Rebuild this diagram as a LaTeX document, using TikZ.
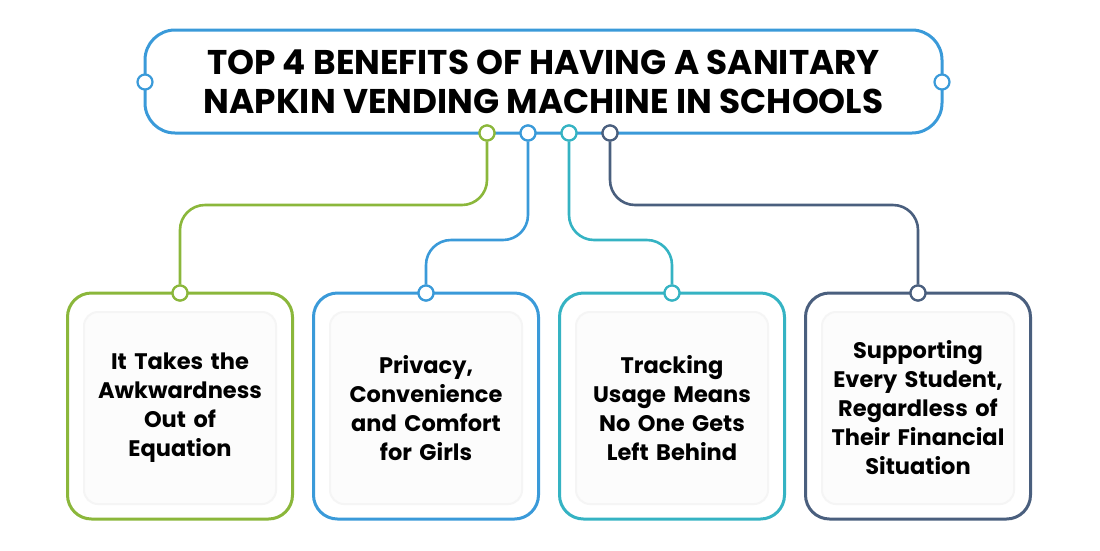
\documentclass[tikz,border=0pt]{standalone}
\usepackage{fontspec}
\setmainfont{Poppins}
\definecolor{cg}{HTML}{8BB73B}
\definecolor{cb}{HTML}{3A9AD9}
\definecolor{ct}{HTML}{35B3C3}
\definecolor{cn}{HTML}{4A5F7E}
\begin{document}
\begin{tikzpicture}[x=1pt,y=-1pt,
 dot/.style={circle,draw=#1,fill=white,line width=2.2pt,minimum size=15pt,inner sep=0pt},
 conn/.style={draw=#1,line width=2.6pt,rounded corners=25pt},
 outer/.style={draw=#1,line width=3pt,rounded corners=24pt,fill=white,minimum width=225pt,minimum height=226pt},
 inner/.style={draw=black!4,line width=2pt,fill=black!1,rounded corners=14pt,minimum width=192pt,minimum height=192pt,
   font=\bfseries\fontsize{22.5}{29}\selectfont,align=center,text width=185pt}]
\useasboundingbox (0,0) rectangle (1100,550);
\node[draw=cb,line width=3pt,rounded corners=30pt,minimum width=797pt,minimum height=103pt,
 font=\bfseries\fontsize{34.3}{39}\selectfont,align=center] (title) at (543.5,81.5)
 {TOP 4 BENEFITS OF HAVING A SANITARY\\NAPKIN VENDING MACHINE IN SCHOOLS};
\node[dot=cb] (l) at (145,82) {};
\node[dot=cb] (r) at (942,82) {};
\foreach \c/\x/\bx/\n in {cg/487/180/1,cb/528/426/2,ct/569/672/3,cn/610/918/4}{
  \node[outer=\c] (b\n) at (\bx,406) {};
  \node[dot=\c] (t\n) at (\x,133) {};
  \node[dot=\c] (d\n) at (\bx,293) {};
}
\draw[conn=cg] (t1) |- (334,205) -| (d1);
\draw[conn=cb] (t2) |- (477,240) -| (d2);
\draw[conn=ct] (t3) |- (620,240) -| (d3);
\draw[conn=cn] (t4) |- (764,205) -| (d4);
\foreach \c/\x/\bx/\n in {cg/487/180/1,cb/528/426/2,ct/569/672/3,cn/610/918/4}{
  \node[dot=\c] at (t\n) {};
  \node[dot=\c] at (d\n) {};
}
\node[inner] (i1) at (180,408) {It Takes the\\Awkwardness\\Out of\\Equation};
\node[inner] (i2) at (426,408) {Privacy,\\Convenience\\and Comfort\\for Girls};
\node[inner] (i3) at (672,408) {Tracking\\Usage Means\\No One Gets\\Left Behind};
\node[inner] (i4) at (918,408) {Supporting\\Every Student,\\Regardless of\\Their Financial\\Situation};
\end{tikzpicture}
\end{document}
